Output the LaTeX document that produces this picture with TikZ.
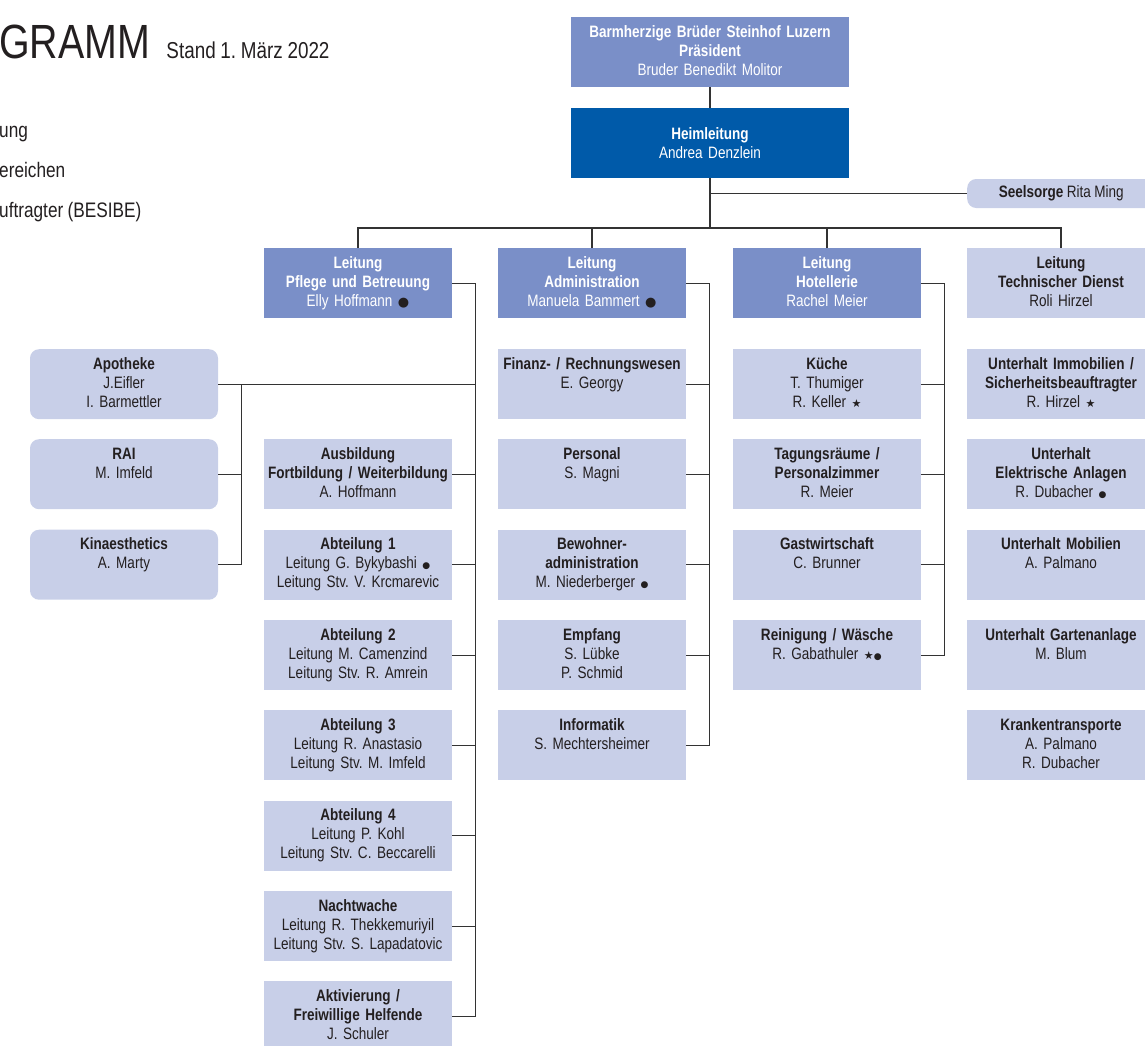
\documentclass[tikz,border=0pt]{standalone}
\usepackage{fontspec}
\setmainfont{Liberation Sans}[FakeStretch=0.82, WordSpace=0.9]
\newfontfamily\symbfont{DejaVu Sans}
\usetikzlibrary{calc}
\frenchspacing

\definecolor{mittelblau}{HTML}{7A8FC8}
\definecolor{dunkelblau}{HTML}{005AA9}
\definecolor{hellblau}{HTML}{C8CFE8}
\definecolor{linie}{HTML}{333333}
\definecolor{schrift}{HTML}{231F20}

\newcommand{\punkt}{{\symbfont\fontsize{9}{9}\selectfont ●}}
\newcommand{\grosspunkt}{{\color{schrift}\symbfont\fontsize{13}{13}\selectfont ●}}
\newcommand{\stern}{{\symbfont\fontsize{11}{11}\selectfont ★}}

\tikzset{
  kasten/.style={anchor=north, fill=hellblau, text=schrift, minimum width=188,
    text width=180, align=center, inner xsep=4, inner ysep=6,
    text height=14, text depth=44, font=\fontsize{16.5}{19}\selectfont},
  rund/.style={kasten, rounded corners=9},
  leitung/.style={kasten, fill=mittelblau, text=white},
  chef/.style={anchor=north, fill=dunkelblau, text=white, minimum width=278,
    minimum height=70, text width=270, align=center, font=\fontsize{16.5}{19}\selectfont},
  legende/.style={anchor=base west, inner sep=0, text=schrift, font=\fontsize{21}{21}\selectfont},
  verbindung/.style={draw=linie, line width=1.3},
}

\begin{document}
\begin{tikzpicture}[x=1pt, y=-1pt]
\useasboundingbox (0,0) rectangle (1145,1046);
\clip (0,0) rectangle (1145,1046);

% Titel und Legende
\node[anchor=base west, inner sep=0, text=schrift, font=\fontsize{48}{48}\selectfont] (titel) at (-1,59) {GRAMM};
\node[anchor=base west, inner sep=0, text=schrift, font=\fontsize{23}{23}\selectfont] (stand) at ($(titel.base east)+(16,0)$) {Stand 1. März 2022};
\node[legende] (leg1) at (-1,137) {ung};
\node[legende] (leg2) at (-1,177) {ereichen};
\node[legende] (leg3) at (-1,217) {uftragter (BESIBE)};

% Spitze
\node[leitung, minimum width=278, text width=270] (praes) at (710,17)
  {\textbf{Barmherzige Brüder Steinhof Luzern}\\\textbf{Präsident}\\Bruder Benedikt Molitor};
\node[chef] (heim) at (710,108) {\textbf{Heimleitung}\\Andrea Denzlein};
\node[anchor=west, fill=hellblau, rounded corners=9, minimum width=188, minimum height=29,
  inner sep=0, text=schrift, font=\fontsize{16.5}{19}\selectfont] (seel) at (967,193.5)
  {\textbf{Seelsorge} Rita Ming};
\coordinate (bus) at (710,228);

% Bereichsleitungen
\node[leitung] (pflege) at (358,248) {\textbf{Leitung}\\\textbf{Pflege und Betreuung}\\Elly Hoffmann \grosspunkt};
\node[leitung] (admin) at (592,248) {\textbf{Leitung}\\\textbf{Administration}\\Manuela Bammert \grosspunkt};
\node[leitung] (hotel) at (827,248) {\textbf{Leitung}\\\textbf{Hotellerie}\\Rachel Meier};
\node[kasten] (tech) at (1061,248) {\textbf{Leitung}\\\textbf{Technischer Dienst}\\Roli Hirzel};

% Stab Pflege
\node[rund] (apo) at (124,349) {\textbf{Apotheke}\\J.Eifler\\I. Barmettler};
\node[rund] (rai) at (124,439) {\textbf{RAI}\\M. Imfeld};
\node[rund] (kina) at (124,529.5) {\textbf{Kinaesthetics}\\A. Marty};

% Pflege und Betreuung
\node[kasten] (ausb) at (358,439) {\textbf{Ausbildung}\\\textbf{Fortbildung / Weiterbildung}\\A. Hoffmann};
\node[kasten] (abt1) at (358,529.5) {\textbf{Abteilung 1}\\Leitung G. Bykybashi \punkt\\Leitung Stv. V. Krcmarevic};
\node[kasten] (abt2) at (358,620) {\textbf{Abteilung 2}\\Leitung M. Camenzind\\Leitung Stv. R. Amrein};
\node[kasten] (abt3) at (358,710) {\textbf{Abteilung 3}\\Leitung R. Anastasio\\Leitung Stv. M. Imfeld};
\node[kasten] (abt4) at (358,800.5) {\textbf{Abteilung 4}\\Leitung P. Kohl\\Leitung Stv. C. Beccarelli};
\node[kasten] (nacht) at (358,891) {\textbf{Nachtwache}\\Leitung R. Thekkemuriyil\\Leitung Stv. S. Lapadatovic};
\node[kasten] (aktiv) at (358,981) {\textbf{Aktivierung /}\\\textbf{Freiwillige Helfende}\\J. Schuler};

% Administration
\node[kasten] (finanz) at (592,349) {\textbf{Finanz- / Rechnungswesen}\\E. Georgy};
\node[kasten] (personal) at (592,439) {\textbf{Personal}\\S. Magni};
\node[kasten] (bewohner) at (592,529.5) {\textbf{Bewohner-}\\\textbf{administration}\\M. Niederberger \punkt};
\node[kasten] (empfang) at (592,620) {\textbf{Empfang}\\S. Lübke\\P. Schmid};
\node[kasten] (info) at (592,710) {\textbf{Informatik}\\S. Mechtersheimer};

% Hotellerie
\node[kasten] (kueche) at (827,349) {\textbf{Küche}\\T. Thumiger\\R. Keller \stern};
\node[kasten] (tagung) at (827,439) {\textbf{Tagungsräume /}\\\textbf{Personalzimmer}\\R. Meier};
\node[kasten] (gast) at (827,529.5) {\textbf{Gastwirtschaft}\\C. Brunner};
\node[kasten] (rein) at (827,620) {\textbf{Reinigung / Wäsche}\\R. Gabathuler \stern\punkt};

% Technischer Dienst
\node[kasten] (immo) at (1061,349) {\textbf{Unterhalt Immobilien /}\\\textbf{Sicherheitsbeauftragter}\\R. Hirzel \stern};
\node[kasten] (elektro) at (1061,439) {\textbf{Unterhalt}\\\textbf{Elektrische Anlagen}\\R. Dubacher \punkt};
\node[kasten] (mobil) at (1061,529.5) {\textbf{Unterhalt Mobilien}\\A. Palmano};
\node[kasten] (garten) at (1061,620) {\textbf{Unterhalt Gartenanlage}\\M. Blum};
\node[kasten] (kranken) at (1061,710) {\textbf{Krankentransporte}\\A. Palmano\\R. Dubacher};

% Linien oben
\draw[verbindung] (praes.south) -- (heim.north);
\draw[verbindung] (heim.south) -- (bus);
\draw[verbindung] (heim.south |- seel.west) -- (seel.west);
\draw[verbindung] (pflege.north) |- (bus) -| (tech.north);
\draw[verbindung] (admin.north) -- (admin.north |- bus);
\draw[verbindung] (hotel.north) -- (hotel.north |- bus);

% Linien Pflege
\draw[verbindung] (pflege.east) -- ++(23,0) coordinate (pspine) |- (aktiv.east);
\foreach \n in {ausb,abt1,abt2,abt3,abt4,nacht}
  \draw[verbindung] (\n.east) -- ++(23,0);
\draw[verbindung] (apo.east) -- (apo.east -| pspine);
\draw[verbindung] (apo.east) ++(23,0) |- (kina.east);
\draw[verbindung] (rai.east) -- ++(23,0);

% Linien Administration und Hotellerie
\draw[verbindung] (admin.east) -- ++(23,0) |- (info.east);
\foreach \n in {finanz,personal,bewohner,empfang}
  \draw[verbindung] (\n.east) -- ++(23,0);
\draw[verbindung] (hotel.east) -- ++(23,0) |- (rein.east);
\foreach \n in {kueche,tagung,gast}
  \draw[verbindung] (\n.east) -- ++(23,0);
\end{tikzpicture}
\end{document}
